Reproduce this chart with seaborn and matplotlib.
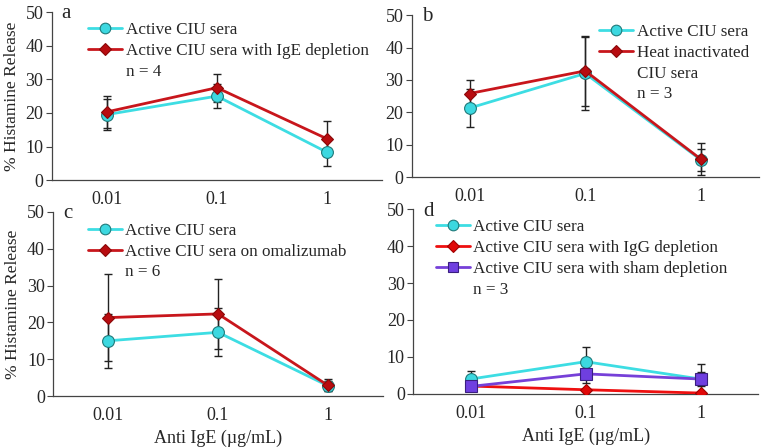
import pandas as pd
import seaborn as sns
import matplotlib.pyplot as plt
from matplotlib.lines import Line2D

# doses on the categorical x axis
doses = ["0.01", "0.1", "1"]

# panel a
a_active = [19.5, 25.0, 8.3]
a_active_err = [4.6, 3.5, 4.0]
a_ige = [20.3, 27.5, 12.3]
a_ige_err = [4.7, 4.2, 5.2]

# panel b
b_active = [21.3, 32.0, 5.3]
b_active_err = [6.0, 11.3, 3.3]
b_heat = [25.8, 32.8, 5.5]
b_heat_err = [4.2, 10.8, 5.0]

# panel c
c_active = [15.0, 17.3, 2.8]
c_active_err = [7.3, 6.5, 1.4]
c_omal = [21.3, 22.3, 2.9]
c_omal_err = [11.8, 9.4, 1.6]

# panel d
d_active = [4.0, 8.7, 4.0]
d_active_err = [2.3, 3.9, 2.0]
d_igg = [2.1, 1.1, 0.2]
d_igg_err = [0.3, 0.3, 0.2]
d_sham = [2.0, 5.4, 4.0]
d_sham_err = [0.8, 2.4, 4.0]

CYAN = dict(color="#3ddde3", marker="o", mfc="#3cd8e0", mec="#1f7a7a", ms=8.5)
DRED = dict(color="#c8161c", marker="D", mfc="#b80c10", mec="#8a0808", ms=6.5)
BRED = dict(color="#ee1010", marker="D", mfc="#e00808", mec="#a00000", ms=6.5)
PURP = dict(color="#7640d8", marker="s", mfc="#6f3fe0", mec="#3a1f80", ms=8)

sns.set_style("white")
plt.rcParams['font.family'] = ['Liberation Serif', 'DejaVu Serif']
plt.rcParams['font.size'] = 12

fig = plt.figure(figsize=(7.61, 4.47), dpi=100)
axes = {
    "a": fig.add_axes([0.068, 0.597, 0.434, 0.376]),
    "b": fig.add_axes([0.541, 0.604, 0.456, 0.362]),
    "c": fig.add_axes([0.070, 0.114, 0.433, 0.412]),
    "d": fig.add_axes([0.543, 0.119, 0.453, 0.413]),
}


def draw(ax, series, n_label, legend_xy, extra_rows=()):
    handles = []
    for label, vals, errs, sty in series:
        df = pd.DataFrame({"dose": range(len(doses)), "val": vals})
        ax.errorbar(df["dose"], df["val"], yerr=errs, fmt="none", ecolor="#222222",
                    elinewidth=1, capsize=3, capthick=1, zorder=2)
        sns.lineplot(data=df, x="dose", y="val", ax=ax, color=sty["color"], lw=2,
                     marker=sty["marker"], markerfacecolor=sty["mfc"],
                     markeredgecolor=sty["mec"], markersize=sty["ms"],
                     markeredgewidth=0.8, zorder=3)
        handles.append(Line2D([], [], color=sty["color"], lw=2, marker=sty["marker"],
                              mfc=sty["mfc"], mec=sty["mec"], ms=sty["ms"] * 0.9,
                              mew=0.8, label=label))
    for row in extra_rows:
        handles.append(Line2D([], [], color="none", label=row))
    handles.append(Line2D([], [], color="none", label=n_label))
    ax.legend(handles=handles, loc="upper left", bbox_to_anchor=legend_xy,
              frameon=False, borderaxespad=0, borderpad=0, handlelength=2.0,
              handletextpad=0.2, labelspacing=0.28, fontsize=12.3)

    ax.set_xlim(-0.5, 2.5)
    ax.set_ylim(0, 50)
    ax.set_yticks(range(0, 51, 10))
    ax.set_xticks(range(len(doses)))
    ax.set_xticklabels(doses)
    ax.set_xticks([0.5, 1.5, 2.5], minor=True)
    ax.tick_params(axis="x", which="major", length=0, labelsize=13, pad=8)
    ax.tick_params(axis="x", which="minor", length=4, width=0.8, direction="out",
                   color="#444444")
    ax.tick_params(axis="y", length=4, width=0.8, direction="out", labelsize=13,
                   color="#444444", pad=2, left=True)
    for s in ["top", "right"]:
        ax.spines[s].set_visible(False)
    for s in ["left", "bottom"]:
        ax.spines[s].set_color("#444444")
        ax.spines[s].set_linewidth(0.9)
    ax.set_xlabel("")
    ax.set_ylabel("")


draw(axes["a"], [("Active CIU sera", a_active, a_active_err, CYAN),
                 ("Active CIU sera with IgE depletion", a_ige, a_ige_err, DRED)],
     "n = 4", (0.11, 0.94))
draw(axes["b"], [("Active CIU sera", b_active, b_active_err, CYAN),
                 ("Heat inactivated", b_heat, b_heat_err, DRED)],
     "n = 3", (0.54, 0.945), extra_rows=("CIU sera",))
draw(axes["c"], [("Active CIU sera", c_active, c_active_err, CYAN),
                 ("Active CIU sera on omalizumab", c_omal, c_omal_err, DRED)],
     "n = 6", (0.105, 0.94))
draw(axes["d"], [("Active CIU sera", d_active, d_active_err, CYAN),
                 ("Active CIU sera with IgG depletion", d_igg, d_igg_err, BRED),
                 ("Active CIU sera with sham depletion", d_sham, d_sham_err, PURP)],
     "n = 3", (0.065, 0.945))

for key, ax in axes.items():
    ax.text(0.03, 0.99, key, transform=ax.transAxes, fontsize=15, va="center", ha="left")

axes["a"].set_ylabel("% Histamine Release", fontsize=12.5, labelpad=4)
axes["c"].set_ylabel("% Histamine Release", fontsize=12.5, labelpad=4)
axes["c"].set_xlabel("Anti IgE (\u00b5g/mL)", fontsize=13, labelpad=4)
axes["d"].set_xlabel("Anti IgE (\u00b5g/mL)", fontsize=13, labelpad=4)

plt.savefig("out.png", dpi=100)
